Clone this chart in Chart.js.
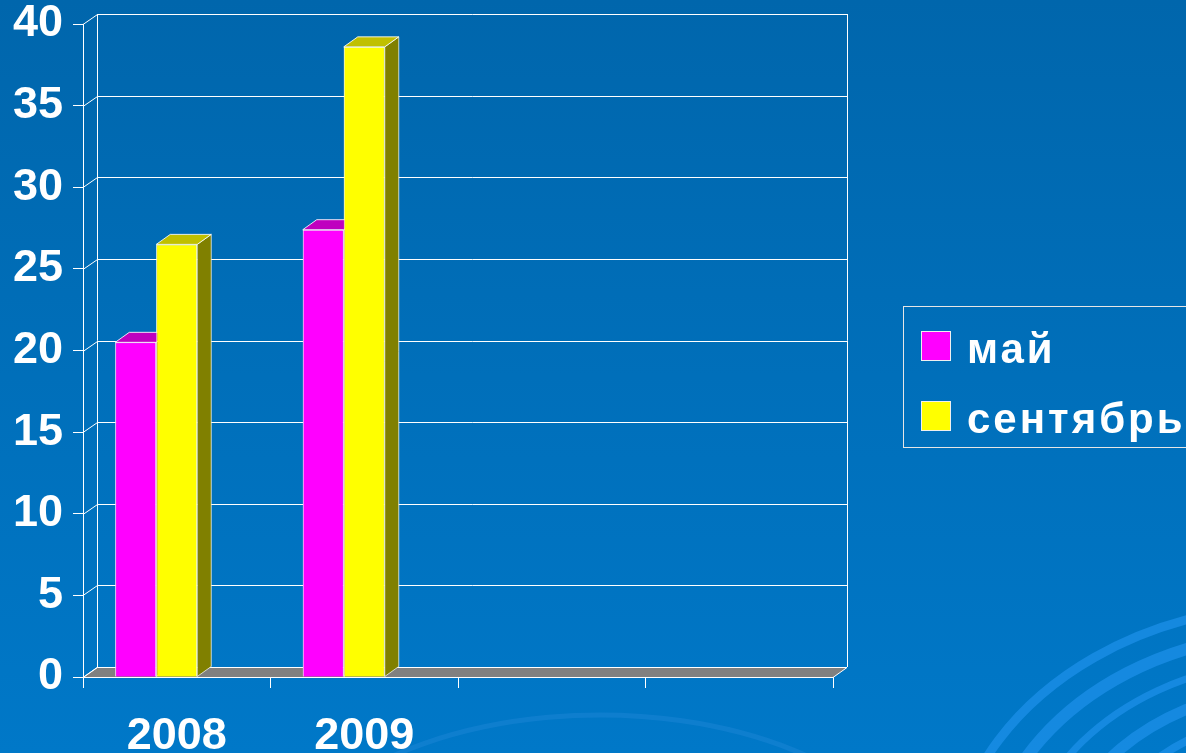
<!DOCTYPE html>
<html>
<head>
<meta charset="utf-8">
<script src="https://cdn.jsdelivr.net/npm/chart.js@4.4.1/dist/chart.umd.min.js"></script>
<style>
  html, body { margin: 0; padding: 0; overflow: hidden; background: #006aae; }
  canvas { display: block; }
</style>
</head>
<body>
<canvas id="chart" width="1186" height="753"></canvas>
<script>
const categories = ['2008', '2009', '', ''];
const seriesNames = ['май', 'сентябрь'];
const mayValues = [20.5, 27.4, null, null];
const septValues = [26.5, 38.6, null, null];
const yTickStep = 5;
const yMax = 40;

const FONT = "'Liberation Sans', Arial, sans-serif";
const DX = 14, DY = -10; // depth of the fake 3d box
const px = v => Math.round(v) + 0.5;

function poly(ctx, pts, fill, stroke) {
    ctx.beginPath();
    ctx.moveTo(pts[0][0], pts[0][1]);
    for (let i = 1; i < pts.length; i++) ctx.lineTo(pts[i][0], pts[i][1]);
    ctx.closePath();
    if (fill) { ctx.fillStyle = fill; ctx.fill(); }
    if (stroke) { ctx.strokeStyle = stroke; ctx.stroke(); }
}

const box3d = {
    id: 'box3d',
    beforeDraw(chart) {
        const { ctx, width, height } = chart;
        ctx.save();
        const g = ctx.createLinearGradient(0, 0, 0, height);
        g.addColorStop(0, '#0066ac');
        g.addColorStop(1, '#0078c8');
        ctx.fillStyle = g;
        ctx.fillRect(0, 0, width, height);
        // background swirls
        ctx.strokeStyle = 'rgba(30,145,235,0.7)';
        [[1, 9], [0.9, 12], [0.8, 7], [0.7, 11], [0.6, 8], [0.5, 10]].forEach(([k, w], i) => {
            ctx.lineWidth = w;
            ctx.beginPath();
            ctx.ellipse(1300, 880, 350 * k, 275 * k, 0, Math.PI * (1.05 + i * 0.03), Math.PI * 1.55);
            ctx.stroke();
        });
        ctx.strokeStyle = 'rgba(40,140,220,0.35)';
        ctx.lineWidth = 5;
        ctx.beginPath();
        ctx.ellipse(600, 900, 330, 185, 0, Math.PI * 1.2, Math.PI * 1.75);
        ctx.stroke();
        ctx.restore();
    },
    beforeDatasetsDraw(chart) {
        const { ctx, chartArea: a, scales: { y } } = chart;
        ctx.save();
        ctx.lineWidth = 1;
        // floor
        poly(ctx, [[a.left, px(a.bottom)], [a.right, px(a.bottom)], [a.right + DX, px(a.bottom + DY)], [a.left + DX, px(a.bottom + DY)]], '#808080', '#ffffff');
        // back wall grid and side diagonals
        ctx.strokeStyle = '#ffffff';
        y.ticks.forEach(t => {
            const py = y.getPixelForValue(t.value);
            ctx.beginPath();
            if (t.value > 0) {
                ctx.moveTo(px(a.left + DX), px(py + DY));
                ctx.lineTo(a.right + DX, px(py + DY));
            }
            ctx.moveTo(a.left, px(py));
            ctx.lineTo(px(a.left + DX), px(py + DY));
            ctx.stroke();
        });
        ctx.beginPath();
        ctx.moveTo(px(a.left + DX), a.top + DY);
        ctx.lineTo(px(a.left + DX), a.bottom + DY);
        ctx.moveTo(px(a.right + DX), a.top + DY);
        ctx.lineTo(px(a.right + DX), a.bottom + DY);
        ctx.stroke();
        ctx.restore();
    },
    afterDatasetsDraw(chart) {
        // redraw fronts in series order so later series cover earlier sides
        const ctx = chart.ctx;
        ctx.save();
        chart.data.datasets.forEach((ds, di) => {
            if (!ds.topColor) return;
            const meta = chart.getDatasetMeta(di);
            meta.data.forEach((bar, i) => {
                if (ds.data[i] == null) return;
                bar.draw(ctx, chart.chartArea);
                const { x, y, base, width } = bar.getProps(['x', 'y', 'base', 'width'], true);
                const l = x - width / 2, r = x + width / 2;
                ctx.lineWidth = 1;
                poly(ctx, [[r, y], [r + DX, y + DY], [r + DX, base + DY], [r, base]], ds.sideColor, 'rgba(255,255,255,0.7)');
                poly(ctx, [[l, y], [r, y], [r + DX, y + DY], [l + DX, y + DY]], ds.topColor, 'rgba(255,255,255,0.85)');
            });
        });
        ctx.restore();
    },
    afterDraw(chart) {
        const ctx = chart.ctx;
        ctx.save();
        ctx.lineWidth = 1;
        ctx.strokeStyle = '#e6e6e6';
        ctx.strokeRect(903.5, 306.5, 320, 141);
        ctx.font = 'bold 42px ' + FONT;
        ctx.letterSpacing = '3px';
        ctx.textBaseline = 'alphabetic';
        seriesNames.forEach((name, i) => {
            const ds = chart.data.datasets[i];
            const top = 331 + i * 70;
            ctx.fillStyle = ds.backgroundColor;
            ctx.fillRect(921, top, 30, 30);
            ctx.strokeStyle = '#f0f0f0';
            ctx.strokeRect(921.5, top + 0.5, 29, 29);
            ctx.fillStyle = '#ffffff';
            ctx.fillText(ds.label, 967, top + 32);
        });
        ctx.restore();
    }
};

new Chart(document.getElementById('chart'), {
    type: 'bar',
    data: {
        labels: categories,
        datasets: [
            { label: seriesNames[0], data: mayValues, backgroundColor: '#ff00ff', topColor: '#bf00bf', sideColor: '#800080', borderColor: '#f4d0f4', borderWidth: 1 },
            { label: seriesNames[1], data: septValues, backgroundColor: '#ffff00', topColor: '#c0c000', sideColor: '#808000', borderColor: '#f8f8d0', borderWidth: 1 },
            { label: '', data: [null, null, null, null], backgroundColor: 'transparent' }
        ]
    },
    options: {
        responsive: false,
        animation: false,
        layout: { padding: { left: 0, top: 24, right: 353, bottom: 0 } },
        datasets: { bar: { categoryPercentage: 0.656, barPercentage: 1 } },
        plugins: { legend: { display: false }, tooltip: { enabled: false } },
        scales: {
            x: {
                offset: true,
                afterFit: s => { s.height = 76; s.paddingLeft = 0; s.paddingRight = 0; },
                grid: { offset: true, drawOnChartArea: false, tickLength: 11, color: '#ffffff' },
                border: { display: false },
                ticks: { color: '#ffffff', padding: 26, autoSkip: false, maxRotation: 0, font: { family: FONT, size: 45, weight: 'bold', lineHeight: 1 } }
            },
            y: {
                min: 0,
                max: yMax,
                afterFit: s => { s.width = 83; s.paddingTop = 0; s.paddingBottom = 0; },
                grid: { drawOnChartArea: false, tickLength: 10, color: '#ffffff' },
                border: { display: true, color: '#ffffff' },
                ticks: { stepSize: yTickStep, color: '#ffffff', padding: 10, font: { family: FONT, size: 45, weight: 'bold', lineHeight: 1 } }
            }
        }
    },
    plugins: [box3d]
});
</script>
</body>
</html>
